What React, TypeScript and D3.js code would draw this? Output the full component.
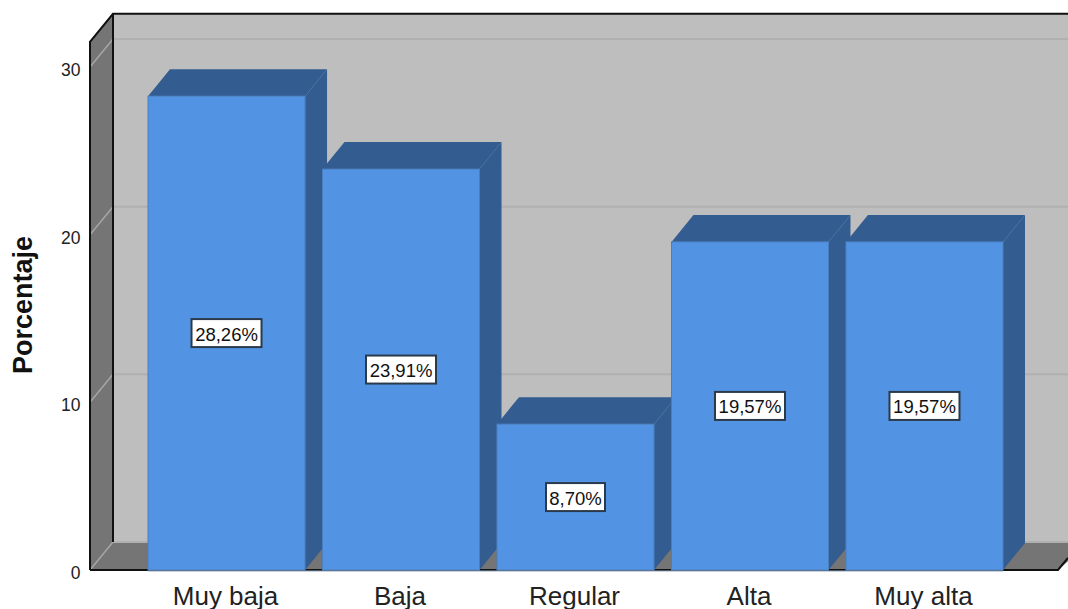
import React from "react";
import * as d3 from "d3";

const categories = ["Muy baja", "Baja", "Regular", "Alta", "Muy alta"];
const percentages = [28.26, 23.91, 8.7, 19.57, 19.57];
const valueLabels = ["28,26%", "23,91%", "8,70%", "19,57%", "19,57%"];
const yTicks = [0, 10, 20, 30];
const yTop = 31.5;

const W = 1068;
const H = 609;
const DX = 23;
const DY = -28;
const FLOOR_Y = 570;
const WALL_X = 90;

const y = d3.scaleLinear().domain([0, 30]).range([FLOOR_Y, 67]);
const x = d3.scaleBand<string>().domain(categories).range([148, 1003]).paddingInner(0.1).paddingOuter(0);

const poly = (pts: [number, number][]) => d3.line()(pts) + "Z";

const BAR = "#5294E3";
const BAR_DARK = "#335C90";
const WALL = "#BEBEBE";
const SIDE = "#757575";
const FONT = "'Liberation Sans', Arial, sans-serif";

function Label({ cx, cy, text }: { cx: number; cy: number; text: string }) {
  const w = text.length > 5 ? 70 : 59;
  return (
    <g>
      <rect x={cx - w / 2} y={cy - 14} width={w} height={28} fill="#fff" stroke="#2b3a4a" strokeWidth={2} />
      <text x={cx} y={cy + 7.5} textAnchor="middle" fontSize={18.5} fontFamily={FONT} fill="#111">
        {text}
      </text>
    </g>
  );
}

export default function App() {
  const top = y(yTop);
  const right = 1090;
  return (
    <svg width={W} height={H} style={{ position: "absolute", left: 0, top: 0, display: "block" }}>
      {/* back wall */}
      <rect x={WALL_X + DX} y={top + DY} width={right} height={FLOOR_Y - top} fill={WALL} />
      {/* left wall and floor */}
      <path
        d={poly([
          [WALL_X, top],
          [WALL_X + DX, top + DY],
          [WALL_X + DX, FLOOR_Y + DY],
          [WALL_X, FLOOR_Y],
        ])}
        fill={SIDE}
      />
      <path
        d={poly([
          [WALL_X, FLOOR_Y],
          [WALL_X + DX, FLOOR_Y + DY],
          [right, FLOOR_Y + DY],
          [right - DX - 9, FLOOR_Y],
        ])}
        fill={SIDE}
      />
      {/* gridlines on both walls */}
      {yTicks.map((t) => (
        <g key={t}>
          <path
            d={`M${WALL_X},${y(t)}L${WALL_X + DX},${y(t) + DY}`}
            stroke="#A6A6A6"
            strokeWidth={1.5}
            fill="none"
          />
          <line x1={WALL_X + DX} x2={right} y1={y(t) + DY} y2={y(t) + DY} stroke="#B0B0B0" strokeWidth={2} />
        </g>
      ))}
      {/* frame */}
      <path
        d={`M${WALL_X},${FLOOR_Y}V${top}L${WALL_X + DX},${top + DY}H${right}`}
        fill="none"
        stroke="#111"
        strokeWidth={2}
      />
      <line x1={WALL_X + DX} x2={WALL_X + DX} y1={top + DY} y2={FLOOR_Y + DY} stroke="#111" strokeWidth={2} />
      <path d={`M${WALL_X},${FLOOR_Y}H1058L1068,${FLOOR_Y - 12}`} fill="none" stroke="#111" strokeWidth={2} />
      {/* bars */}
      {categories.map((c, i) => {
        const x0 = x(c)!;
        const x1 = x0 + x.bandwidth();
        const yv = y(percentages[i]);
        return (
          <g key={c}>
            <path
              d={poly([
                [x0, yv],
                [x0 + DX - 1, yv + DY + 1],
                [x1 + DX - 1, yv + DY + 1],
                [x1, yv],
              ])}
              fill={BAR_DARK}
            />
            <path
              d={poly([
                [x1, yv],
                [x1 + DX - 1, yv + DY + 1],
                [x1 + DX - 1, FLOOR_Y + DY + 1],
                [x1, FLOOR_Y],
              ])}
              fill={BAR_DARK}
            />
            <rect x={x0} y={yv} width={x.bandwidth()} height={FLOOR_Y - yv} fill={BAR} stroke="#4A7FBF" strokeWidth={1} />
          </g>
        );
      })}
      {/* bottom edge along the bar bases */}
      <line x1={148} x2={1003} y1={FLOOR_Y + 1} y2={FLOOR_Y + 1} stroke="#8FA6C4" strokeWidth={1} />
      {/* value labels, centred at half the bar height */}
      {categories.map((c, i) => (
        <Label
          key={c}
          cx={x(c)! + x.bandwidth() / 2}
          cy={(y(percentages[i]) + FLOOR_Y) / 2}
          text={valueLabels[i]}
        />
      ))}
      {/* y axis tick labels */}
      {yTicks.map((t) => (
        <text key={t} x={80.5} y={y(t) + 9} textAnchor="end" fontSize={17.5} fontFamily={FONT} fill="#222">
          {t}
        </text>
      ))}
      {/* category labels */}
      {categories.map((c) => (
        <text
          key={c}
          x={x(c)! + x.bandwidth() / 2 - 1}
          y={605}
          textAnchor="middle"
          fontSize={26}
          fontFamily={FONT}
          fill="#222"
        >
          {c}
        </text>
      ))}
      <text
        transform="translate(32,305) rotate(-90)"
        textAnchor="middle"
        fontSize={27}
        fontWeight="bold"
        fontFamily={FONT}
        fill="#111"
      >
        Porcentaje
      </text>
    </svg>
  );
}
